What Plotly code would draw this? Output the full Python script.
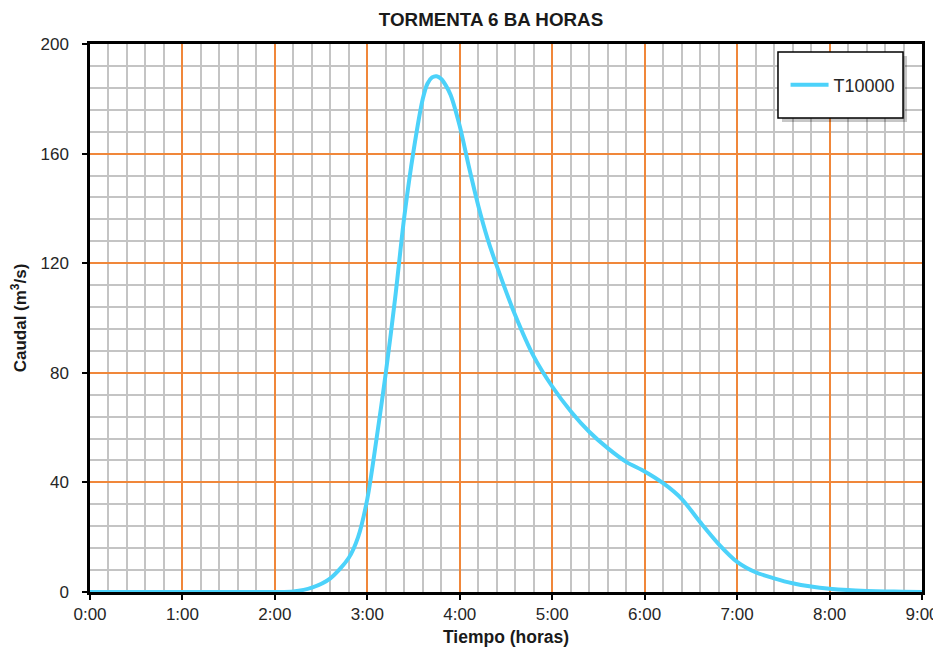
import plotly.graph_objects as go

# Hydrograph data (time in hours, discharge in m3/s)
tiempo = [0.0, 0.5, 1.0, 1.5, 2.0, 2.2, 2.4, 2.6, 2.8, 2.9, 3.0, 3.1, 3.2, 3.3,
          3.4, 3.5, 3.6, 3.65, 3.7, 3.75, 3.8, 3.85, 3.9, 4.0, 4.1, 4.2, 4.3, 4.4, 4.6, 4.8,
          5.0, 5.2, 5.4, 5.6, 5.8, 6.0, 6.2, 6.4, 6.6, 6.8, 7.0, 7.2, 7.4, 7.6,
          7.8, 8.0, 8.2, 8.4, 8.6, 8.8, 9.0]
caudal = [0.0, 0.0, 0.0, 0.0, 0.0, 0.2, 1.6, 5.0, 12.5, 20.0, 34.0, 56.0, 80.0, 107.0,
          137.0, 161.0, 180.0, 185.5, 187.8, 188.2, 187.2, 184.8, 181.5, 170.0, 155.0, 141.0, 129.0, 119.0, 101.0, 86.0,
          75.0, 66.0, 58.5, 52.5, 47.5, 44.0, 39.7, 34.0, 25.5, 17.5, 11.0, 7.2, 5.0, 3.2,
          2.0, 1.2, 0.7, 0.4, 0.2, 0.1, 0.0]

x_ticks = [0, 1, 2, 3, 4, 5, 6, 7, 8, 9]
x_labels = ["0:00", "1:00", "2:00", "3:00", "4:00", "5:00", "6:00", "7:00", "8:00", "9:00"]
y_ticks = [0, 40, 80, 120, 160, 200]

# minor grid every 12 min / 8 m3/s, skipping the major positions
x_minor = [h + k / 5 for h in range(9) for k in range(1, 5)]
y_minor = [v + k * 8 for v in range(0, 200, 40) for k in range(1, 5)]

FONT = "Liberation Sans, Arial, sans-serif"
ORANGE = "#F0873A"
GREY = "#C4C4C4"

fig = go.Figure()

fig.add_trace(go.Scatter(
    x=tiempo,
    y=caudal,
    name="T10000",
    mode="lines",
    line=dict(color="#4CD2FA", width=4, shape="spline", smoothing=0.8),
))

axis_common = dict(
    showline=True,
    linecolor="black",
    linewidth=2.5,
    mirror=True,
    ticks="outside",
    ticklen=5,
    tickwidth=2,
    tickcolor="black",
    showgrid=True,
    gridcolor=ORANGE,
    gridwidth=1.5,
    zeroline=False,
    automargin=False,
    tickfont=dict(family=FONT, size=17, color="#262626"),
)

fig.update_xaxes(
    **axis_common,
    range=[0, 9],
    tickvals=x_ticks,
    ticktext=x_labels,
    minor=dict(tickvals=x_minor, showgrid=True, gridcolor=GREY, gridwidth=2, ticks=""),
    title=dict(text="<b>Tiempo (horas)</b>", font=dict(family=FONT, size=17.5, color="#1a1a1a"), standoff=8),
)
fig.update_yaxes(
    **axis_common,
    range=[0, 200],
    tickvals=y_ticks,
    ticklabelstandoff=10,
    minor=dict(tickvals=y_minor, showgrid=True, gridcolor=GREY, gridwidth=2, ticks=""),
    title=dict(text="<b>Caudal (m<sup>3</sup>/s)</b>", font=dict(family=FONT, size=17, color="#1a1a1a"), standoff=26),
)

# legend box with drop shadow
fig.add_shape(type="rect", xref="paper", yref="paper", layer="above",
              x0=0.8317, x1=0.982, y0=0.8577, y1=0.978,
              fillcolor="rgba(0,0,0,0.22)", line=dict(width=0))
fig.add_shape(type="rect", xref="paper", yref="paper", layer="above",
              x0=0.8269, x1=0.9772, y0=0.865, y1=0.9854,
              fillcolor="white", line=dict(color="black", width=1.5))

# page shows the figure offset by 8px, so size/margins compensate
fig.update_layout(
    width=933,
    height=645,
    margin=dict(l=82, r=19, t=36, b=61),
    paper_bgcolor="white",
    plot_bgcolor="white",
    title=dict(text="<b>TORMENTA 6 BA HORAS</b>", x=0.5177, xref="container", xanchor="center",
               y=0.983, yref="container", yanchor="middle",
               font=dict(family=FONT, size=18.8, color="#1a1a1a")),
    showlegend=True,
    legend=dict(x=0.836, y=0.925, xanchor="left", yanchor="middle",
                bgcolor="rgba(0,0,0,0)", borderwidth=0, itemwidth=38,
                font=dict(family=FONT, size=18, color="#262626")),
)

fig.write_html("out.html")
